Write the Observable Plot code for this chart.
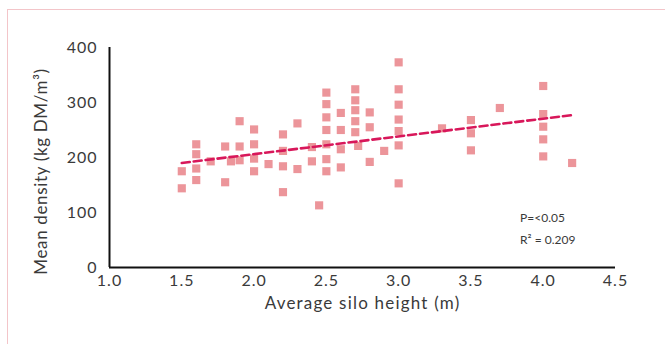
<!DOCTYPE html>
<html>
<head>
<meta charset="utf-8">
<script src="https://cdn.jsdelivr.net/npm/d3@7"></script>
<script src="https://cdn.jsdelivr.net/npm/@observablehq/plot@0.6"></script>
<style>
  html, body { margin: 0; padding: 0; background: #fff; }
  #wrap { position: relative; width: 665px; height: 344px; overflow: hidden; font-family: Lato, "Open Sans", sans-serif; }
  #frame { position: absolute; left: 7px; top: 9px; width: 700px; height: 400px; border-left: 1.5px solid #f3c5c9; border-top: 1.5px solid #f3c5c9; }
  #chart { position: absolute; left: 0; top: 0; }
  .xtitle text { letter-spacing: 1.2px; }
  .ytitle text { letter-spacing: 0.65px; }
  g[aria-label="x-axis tick label"] text, g[aria-label="y-axis tick label"] text { letter-spacing: 1px; }
</style>
</head>
<body>
<div id="wrap"><div id="frame"></div><div id="chart"></div></div>
<script>
// Average silo height (m)
const heights = [
  1.5, 1.5,
  1.6, 1.6, 1.6, 1.6,
  1.7,
  1.8, 1.8,
  1.84,
  1.9, 1.9, 1.9,
  2.0, 2.0, 2.0, 2.0,
  2.1,
  2.2, 2.2, 2.2, 2.2,
  2.3, 2.3,
  2.4, 2.4,
  2.45,
  2.5, 2.5, 2.5, 2.5, 2.5, 2.5, 2.5,
  2.6, 2.6, 2.6, 2.6,
  2.7, 2.7, 2.7, 2.7, 2.7, 2.72,
  2.8, 2.8, 2.8,
  2.9,
  3.0, 3.0, 3.0, 3.0, 3.0, 3.0, 3.0,
  3.3,
  3.5, 3.5, 3.5,
  3.7,
  4.0, 4.0, 4.0, 4.0, 4.0,
  4.2
];
// Mean density (kg DM/m3)
const densities = [
  175, 144,
  224, 206, 180, 159,
  193,
  220, 155,
  193,
  266, 220, 195,
  251, 224, 198, 175,
  188,
  242, 212, 184, 137,
  262, 179,
  219, 193,
  113,
  318, 297, 273, 250, 224, 197, 175,
  281, 250, 215, 182,
  324, 304, 286, 266, 246, 221,
  282, 255, 192,
  212,
  373, 324, 296, 269, 248, 222, 153,
  253,
  268, 244, 213,
  290,
  330, 279, 256, 233, 202,
  190
];
// Trend line end points
const trendX = [1.5, 4.2];
const trendY = [190, 277];
// Tick labels
const xTicks = [1.0, 1.5, 2.0, 2.5, 3.0, 3.5, 4.0, 4.5];
const yTicks = [0, 100, 200, 300, 400];
// Axis titles
const xTitle = "Average silo height (m)";
const yTitle = "Mean density (kg DM/m³)";
// Annotations
const noteLines = ["P=<0.05", "R² = 0.209"];
const noteY = [90, 50];
const noteX = [3.84, 3.84];

const points = heights.map((h, i) => ({h, d: densities[i]}));
const trend = trendX.map((x, i) => ({x, y: trendY[i]}));
const notes = noteLines.map((t, i) => ({t, x: noteX[i], y: noteY[i]}));

const chart = Plot.plot({
  width: 665,
  height: 344,
  marginLeft: 109,
  marginRight: 50,
  marginTop: 47,
  marginBottom: 77,
  style: {fontFamily: "Lato, 'Open Sans', sans-serif", color: "#3a3a3a", background: "transparent", overflow: "visible"},
  x: {domain: [1, 4.5]},
  y: {domain: [0, 400]},
  marks: [
    Plot.axisX({ticks: xTicks, tickSize: 0, tickPadding: 7, fontSize: 16, tickFormat: d3.format(".1f"), label: null}),
    Plot.axisY({ticks: yTicks, tickSize: 0, tickPadding: 12, fontSize: 16, label: null}),
    Plot.text([xTitle], {frameAnchor: "bottom", dy: 41, fontSize: 17, fill: "#3a3a3a", className: "xtitle"}),
    Plot.text([yTitle], {frameAnchor: "left", textAnchor: "middle", rotate: -90, dx: -68, dy: 14, fontSize: 17, fill: "#3a3a3a", className: "ytitle"}),
    Plot.dot(points, {x: "h", y: "d", symbol: "square", r: 4.6, fill: "#ec959a", stroke: "none"}),
    Plot.line(trend, {x: "x", y: "y", stroke: "#d8175a", strokeWidth: 2.6, strokeDasharray: "8,4"}),
    Plot.ruleX([1], {y1: 0, y2: 400, stroke: "#111", strokeWidth: 2}),
    Plot.ruleY([0], {x1: 1, x2: 4.5, stroke: "#111", strokeWidth: 2}),
    Plot.text(notes, {x: "x", y: "y", text: "t", textAnchor: "start", fontSize: 12, fill: "#3a3a3a"})
  ]
});
document.getElementById("chart").appendChild(chart);
</script>
</body>
</html>
